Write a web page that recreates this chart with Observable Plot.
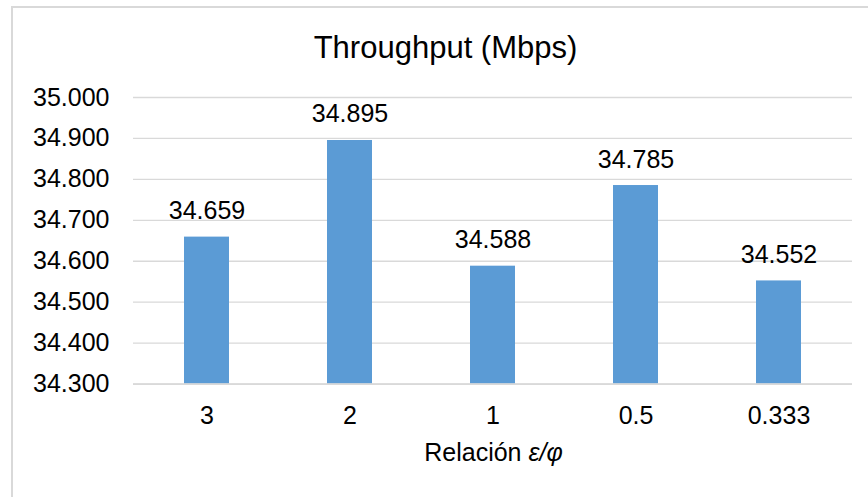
<!DOCTYPE html>
<html>
<head>
<meta charset="utf-8">
<script src="https://cdn.jsdelivr.net/npm/d3@7"></script>
<script src="https://cdn.jsdelivr.net/npm/@observablehq/plot@0.6"></script>
<style>
  html, body { margin: 0; padding: 0; background: #fff; overflow: hidden; }
  body { width: 868px; height: 497px; font-family: "Liberation Sans", Arial, sans-serif; }
  #wrap { position: relative; width: 868px; height: 497px; overflow: hidden; }
  #frame { position: absolute; left: 11px; top: 6px; width: 1000px; height: 700px; border: 2px solid #d9d9d9; box-sizing: border-box; }
  #title { position: relative; height: 60px; width: 891px; }
  #title span { position: absolute; left: 0; width: 891px; top: 32px; text-align: center; font-size: 31px; line-height: 31px; color: #000; }
  #xlabel { position: absolute; left: 0; width: 987px; top: 440px; text-align: center; font-size: 25px; line-height: 25px; color: #000; }
  #xlabel i { font-style: italic; }
  #chart { position: relative; }
</style>
</head>
<body>
<div id="wrap">
  <div id="frame"></div>
  <div id="title"><span>Throughput (Mbps)</span></div>
  <div id="chart"></div>
  <div id="xlabel">Relación <i>ε/φ</i></div>
</div>
<script>
const ratios = ["3", "2", "1", "0.5", "0.333"];
const throughput = [34.659, 34.895, 34.588, 34.785, 34.552];
const yTicks = [34.3, 34.4, 34.5, 34.6, 34.7, 34.8, 34.9, 35.0];
const yMin = 34.3, yMax = 35.0;

const data = ratios.map((r, i) => ({ratio: r, value: throughput[i]}));
const fmt = d3.format(".3f");

const chart = Plot.plot({
  width: 868,
  height: 437,
  marginLeft: 133,
  marginRight: 16,
  marginTop: 37,
  marginBottom: 113.4,
  style: {fontFamily: "'Liberation Sans', Arial, sans-serif", fontSize: "25px", color: "#000", background: "transparent"},
  x: {domain: ratios, paddingInner: 0.687, paddingOuter: 0.3435, align: 0.5, label: null},
  y: {domain: [yMin, yMax], label: null},
  marks: [
    Plot.gridY(yTicks, {stroke: "#d9d9d9", strokeOpacity: 1, strokeWidth: 1.3}),
    Plot.barY(data, {x: "ratio", y1: yMin, y2: "value", fill: "#5b9bd5"}),
    Plot.ruleY([yMin], {stroke: "#d9d9d9", strokeWidth: 1.6}),
    Plot.text(data, {x: "ratio", y: "value", text: d => fmt(d.value), dy: -26, fill: "#000", fontSize: 25}),
    Plot.axisY(yTicks, {tickSize: 0, tickPadding: 24, tickFormat: fmt, label: null, fontSize: 25, fill: "#000"}),
    Plot.axisX({tickSize: 0, tickPadding: 22, label: null, fontSize: 25, fill: "#000"})
  ]
});
document.getElementById("chart").appendChild(chart);
</script>
</body>
</html>
